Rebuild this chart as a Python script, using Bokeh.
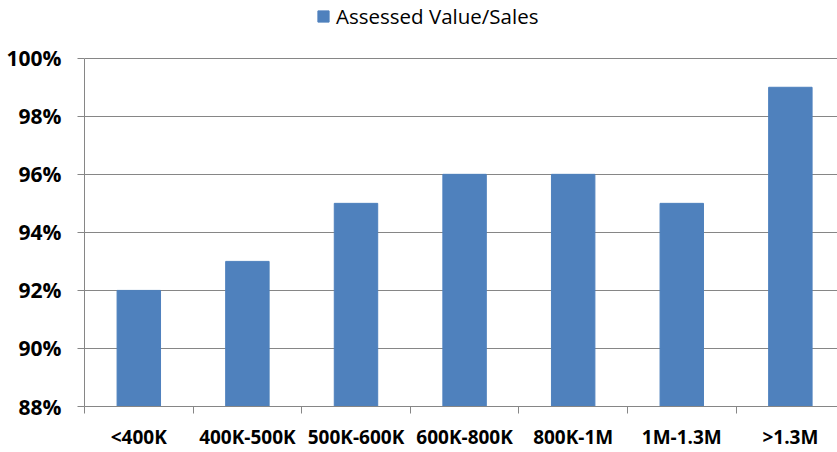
from bokeh.plotting import figure
from bokeh.models import Range1d, FixedTicker, NumeralTickFormatter, Legend, LegendItem, ColumnDataSource
from bokeh.embed import file_html
from bokeh.resources import INLINE

categories = ["<400K", "400K-500K", "500K-600K", "600K-800K", "800K-1M", "1M-1.3M", ">1.3M"]
values = [0.92, 0.93, 0.95, 0.96, 0.96, 0.95, 0.99]
y_ticks = [0.88, 0.90, 0.92, 0.94, 0.96, 0.98, 1.00]
series_name = "Assessed Value/Sales"

x_centers = [i + 0.5 for i in range(len(categories))]
boundaries = list(range(len(categories) + 1))

src = ColumnDataSource(dict(x=x_centers, top=values, cat=categories))

FONT = "Open Sans"
GRAY = "#868686"

# headroom above 100% so the legend can sit inside the frame
p = figure(width=837, height=452, output_backend="svg", toolbar_location=None,
           x_range=Range1d(0, 6.934), y_range=Range1d(0.88, 1.0199),
           min_border_left=84, min_border_right=0, min_border_top=0, min_border_bottom=45)
p.outline_line_color = None

r = p.vbar(x="x", top="top", bottom=0.88, width=0.4, color="#4F81BD", source=src)

# x axis
xt = FixedTicker(ticks=x_centers, minor_ticks=boundaries)
p.xaxis.ticker = xt
p.xaxis.major_label_overrides = {c: lab for c, lab in zip(x_centers, categories)}
p.xaxis.major_tick_line_color = None
p.xaxis.minor_tick_out = 7
p.xaxis.minor_tick_in = 0
p.xaxis.minor_tick_line_color = GRAY
p.xaxis.axis_line_color = GRAY
p.xaxis.major_label_text_font = FONT
p.xaxis.major_label_text_font_style = "bold"
p.xaxis.major_label_text_font_size = "19px"
p.xaxis.major_label_text_color = "black"
p.xaxis.major_label_standoff = 10

# y axis
p.yaxis.ticker = FixedTicker(ticks=y_ticks)
p.yaxis.bounds = (0.88, 1.00)
p.yaxis.formatter = NumeralTickFormatter(format="0%")
p.yaxis.minor_tick_line_color = None
p.yaxis.major_tick_out = 7
p.yaxis.major_tick_in = 0
p.yaxis.major_tick_line_color = GRAY
p.yaxis.axis_line_color = GRAY
p.yaxis.major_label_text_font = FONT
p.yaxis.major_label_text_font_style = "bold"
p.yaxis.major_label_text_font_size = "21px"
p.yaxis.major_label_text_color = "black"
p.yaxis.major_label_standoff = 16

p.xgrid.grid_line_color = None
p.ygrid.ticker = FixedTicker(ticks=y_ticks)
p.ygrid.grid_line_color = GRAY
p.ygrid.grid_line_width = 1

legend = Legend(items=[LegendItem(label=series_name, renderers=[r])],
                orientation="horizontal", location=(232, 376),
                label_text_font=FONT, label_text_font_size="20.5px", label_text_color="black",
                glyph_width=14, glyph_height=14, label_standoff=6,
                border_line_color=None, background_fill_alpha=0,
                padding=0, margin=0, spacing=0)
p.add_layout(legend)

open("out.html", "w").write(file_html(p, INLINE))
